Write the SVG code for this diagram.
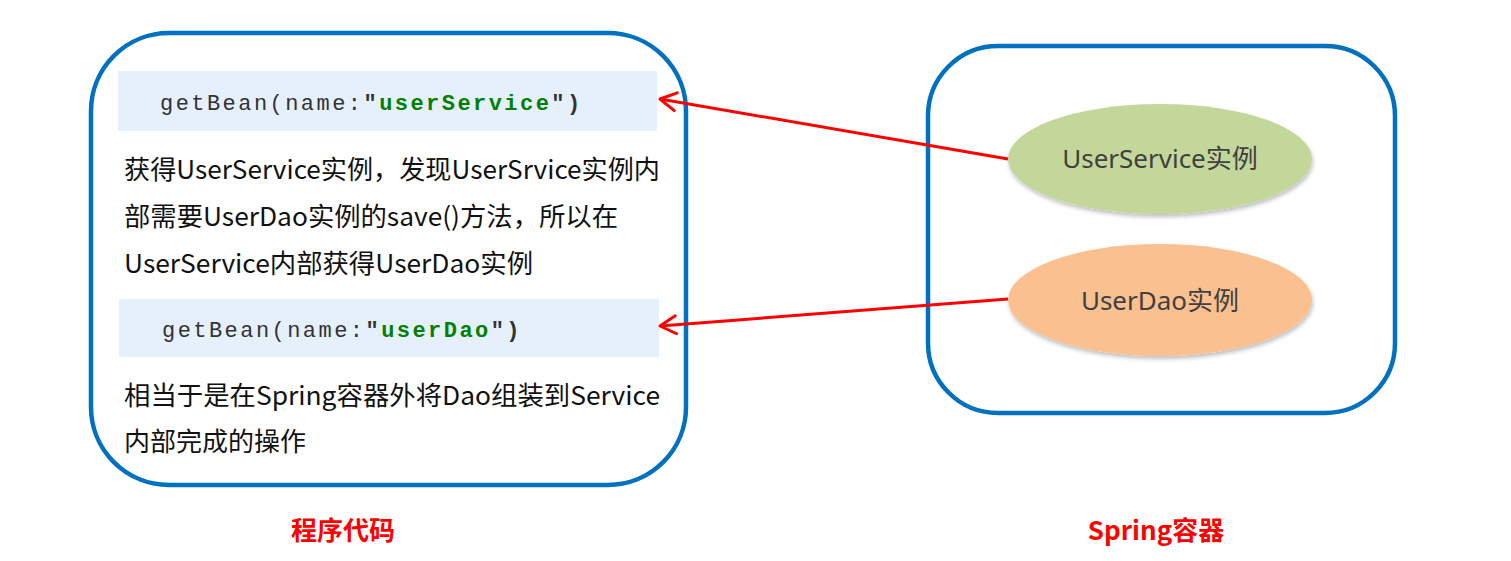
<svg xmlns="http://www.w3.org/2000/svg" width="1511" height="561" viewBox="0 0 1511 561">
<style>
.box{fill:#fff;stroke:#0070c0;stroke-width:4.5}
.code{fill:#e6effc}
.mono{font-family:"Liberation Mono","Courier New",monospace;font-size:22px;letter-spacing:2.45px;fill:#333}
.b{font-weight:bold}
.g{fill:#008000}
.body{font-family:"Noto Sans CJK SC","Noto Sans",sans-serif;font-size:26px;fill:#111}
.el{font-family:"Noto Sans","Noto Sans CJK SC",sans-serif;font-size:26px;fill:#404040}
.lbl{font-family:"Noto Sans CJK SC","Noto Sans",sans-serif;font-size:26px;font-weight:bold;fill:#ff0000}
.arr{stroke:#ff0000;stroke-width:3;fill:none}
</style>
<defs>
<marker id="ah" markerUnits="userSpaceOnUse" markerWidth="30" markerHeight="30" refX="28" refY="15" orient="auto" viewBox="0 0 30 30">
<path d="M12,6 L28,15 L12,24" stroke="#ff0000" stroke-width="3" fill="none" stroke-linecap="round" stroke-linejoin="round"/>
</marker>
<filter id="sh" x="-10%" y="-20%" width="120%" height="150%">
<feGaussianBlur in="SourceAlpha" stdDeviation="2"/>
<feOffset dx="1" dy="3"/>
<feComponentTransfer><feFuncA type="linear" slope="0.25"/></feComponentTransfer>
<feMerge><feMergeNode/><feMergeNode in="SourceGraphic"/></feMerge>
</filter>
</defs>
<g id="program">
<rect class="box" x="91" y="33" width="595" height="452" rx="78"/>
<rect class="code" x="118" y="71" width="539" height="60"/>
<text class="mono" x="160" y="110">getBean(name:<tspan class="b">"</tspan><tspan class="b g">userService</tspan><tspan class="b">")</tspan></text>
<text class="body" x="124" y="179" textLength="536" lengthAdjust="spacingAndGlyphs">获得UserService实例，发现UserSrvice实例内</text>
<text class="body" x="124" y="226" textLength="494" lengthAdjust="spacingAndGlyphs">部需要UserDao实例的save()方法，所以在</text>
<text class="body" x="124" y="273" textLength="409" lengthAdjust="spacingAndGlyphs">UserService内部获得UserDao实例</text>
<rect class="code" x="119" y="299" width="540" height="58"/>
<text class="mono" x="162" y="337">getBean(name:<tspan class="b">"</tspan><tspan class="b g">userDao</tspan><tspan class="b">")</tspan></text>
<text class="body" x="124" y="405" textLength="536" lengthAdjust="spacingAndGlyphs">相当于是在Spring容器外将Dao组装到Service</text>
<text class="body" x="124" y="451" textLength="182" lengthAdjust="spacingAndGlyphs">内部完成的操作</text>
</g>
<g id="container">
<rect class="box" x="928" y="46" width="467" height="367" rx="70"/>
</g>
<g id="userService">
<ellipse cx="1160" cy="159" rx="152" ry="55" fill="#c4d79b" filter="url(#sh)"/>
<text class="el" x="1160" y="168" text-anchor="middle">UserService实例</text>
</g>
<g id="userDao">
<ellipse cx="1160" cy="300" rx="152" ry="56" fill="#fac090" filter="url(#sh)"/>
<text class="el" x="1160" y="310" text-anchor="middle">UserDao实例</text>
</g>
<g id="connectors">
<line class="arr" x1="1008" y1="159" x2="660" y2="99" marker-end="url(#ah)"/>
<line class="arr" x1="1008" y1="299" x2="660" y2="326" marker-end="url(#ah)"/>
</g>
<g id="labels">
<text class="lbl" x="343" y="540" text-anchor="middle">程序代码</text>
<text class="lbl" x="1156" y="540" text-anchor="middle">Spring容器</text>
</g>
</svg>
